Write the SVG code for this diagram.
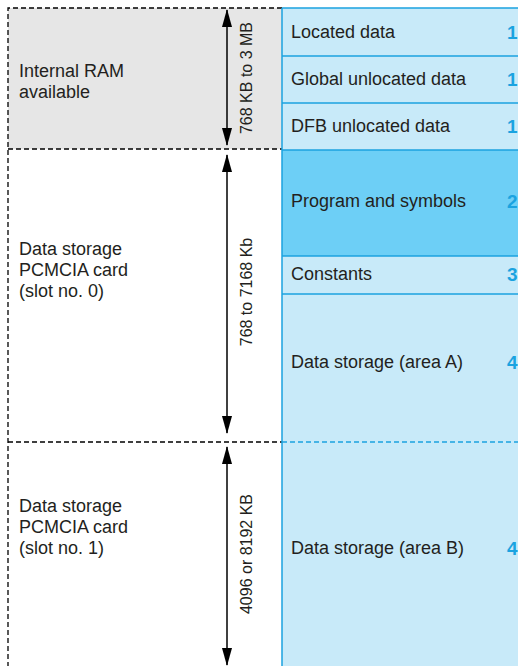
<svg xmlns="http://www.w3.org/2000/svg" width="518" height="666" viewBox="0 0 518 666">
<style>
.t{font-family:"Liberation Sans",Arial,sans-serif;font-size:18px;fill:#231F20}
.v{font-family:"Liberation Sans",Arial,sans-serif;font-size:16px;fill:#231F20;text-anchor:middle}
.n{font-family:"Liberation Sans",Arial,sans-serif;font-size:19px;font-weight:bold;fill:#1BA3E0}
.dash{stroke:#000;stroke-width:1.3;stroke-dasharray:5,3;fill:none}
.bl{stroke:#1BA3E0;stroke-width:1.5;fill:none}
.ar{stroke:#000;stroke-width:1.5;marker-start:url(#ah);marker-end:url(#ah)}
</style>
<defs>
<marker id="ah" viewBox="0 0 18 10" refX="17" refY="5" markerWidth="18" markerHeight="10" markerUnits="userSpaceOnUse" orient="auto-start-reverse">
<path d="M0,0 L18,5 L0,10 Z" fill="#000"/>
</marker>
</defs>
<rect width="518" height="666" fill="#fff"/>
<g id="ram">
<rect x="8" y="8" width="274" height="141" fill="#E6E6E6"/>
<text class="t" x="19" y="77">Internal RAM</text>
<text class="t" x="19" y="98">available</text>
</g>
<g id="card0">
<text class="t" x="19" y="255">Data storage</text>
<text class="t" x="19" y="276">PCMCIA card</text>
<text class="t" x="19" y="297">(slot no. 0)</text>
</g>
<g id="card1">
<text class="t" x="19" y="512">Data storage</text>
<text class="t" x="19" y="533">PCMCIA card</text>
<text class="t" x="19" y="554">(slot no. 1)</text>
</g>
<g id="panel">
<rect x="282" y="8" width="236" height="658" fill="#C8EAF9"/>
<rect x="282" y="150" width="236" height="106" fill="#6DCFF6"/>
</g>
<g id="located"><text class="t" x="291" y="38">Located data</text><text class="n" x="507" y="39">1</text></g>
<g id="global"><text class="t" x="291" y="85">Global unlocated data</text><text class="n" x="507" y="86">1</text></g>
<g id="dfb"><text class="t" x="291" y="132">DFB unlocated data</text><text class="n" x="507" y="133">1</text></g>
<g id="program"><text class="t" x="291" y="207">Program and symbols</text><text class="n" x="507" y="208">2</text></g>
<g id="constants"><text class="t" x="291" y="280">Constants</text><text class="n" x="507" y="281">3</text></g>
<g id="areaA"><text class="t" x="291" y="368">Data storage (area A)</text><text class="n" x="507" y="369">4</text></g>
<g id="areaB"><text class="t" x="291" y="554">Data storage (area B)</text><text class="n" x="507" y="555">4</text></g>
<g id="connectors">
<path class="dash" d="M282,8 H8 V666 M8,149 H282 M8,442 H282"/>
<path class="bl" d="M282,8 H518 M282,8 V666 M282,56 H518 M282,103 H518 M282,150 H518 M282,256 H518 M282,294 H518"/>
<path class="bl" d="M282,442 H518" stroke-dasharray="5,3"/>
<line class="ar" x1="227" y1="10" x2="227" y2="145"/>
<line class="ar" x1="227" y1="155" x2="227" y2="433"/>
<line class="ar" x1="227" y1="447" x2="227" y2="665"/>
<text class="v" transform="translate(252,78) rotate(-90)">768 KB to 3 MB</text>
<text class="v" transform="translate(252,292) rotate(-90)">768 to 7168 Kb</text>
<text class="v" transform="translate(252,554) rotate(-90)">4096 or 8192 KB</text>
</g>
</svg>
